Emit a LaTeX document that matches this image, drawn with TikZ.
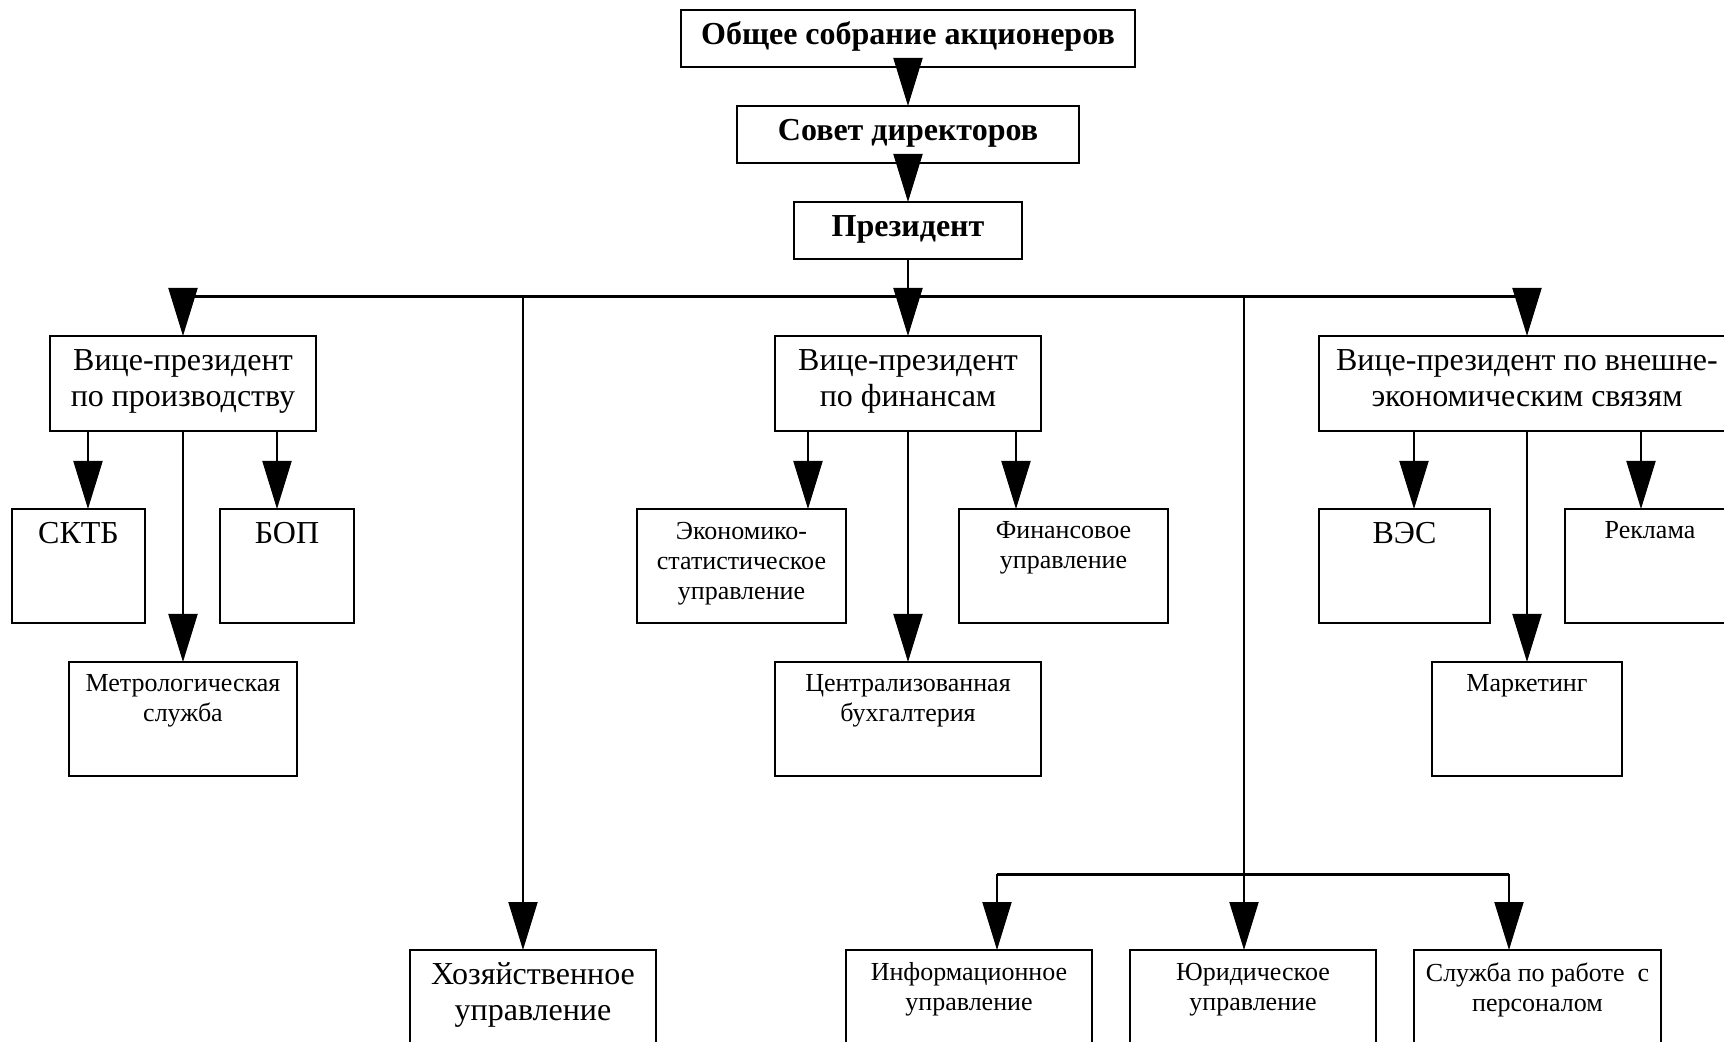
\documentclass[tikz,border=0pt]{standalone}
\usepackage{fontspec}
\setmainfont{Liberation Serif}
\usetikzlibrary{positioning, arrows.meta}

\begin{document}
\begin{tikzpicture}[
		box/.style={draw, line width=1pt, inner sep=0pt, outer sep=0pt, align=center},
		head/.style={box, font=\fontsize{16}{18}\selectfont\bfseries, minimum height=28.5pt, text height=12pt, text depth=5.5pt},
		chief/.style={box, font=\fontsize{16}{18}\selectfont, minimum width=133pt, minimum height=47.5pt,
			execute at begin node={\rule{0pt}{12pt}}, execute at end node={\rule[-5.5pt]{0pt}{5.5pt}}},
		unit/.style={box, minimum height=57pt},
		bigtxt/.style={font=\fontsize{16}{18}\selectfont, align=center, inner sep=0pt, anchor=north, yshift=-5pt,
			execute at begin node={\rule{0pt}{12pt}}},
		smalltxt/.style={font=\fontsize{13}{15}\selectfont, align=center, inner sep=0pt, anchor=north, yshift=-6.25pt,
			execute at begin node={\rule{0pt}{10pt}}},
		link/.style={line width=1pt, -{Triangle[length=24pt, width=14.5pt]}},
		bus/.style={line width=1.5pt},
		>=Triangle
	]

	\node[head, minimum width=227pt] (gsa) {Общее собрание акционеров};
	\useasboundingbox ([xshift=-454pt, yshift=5pt]gsa.north) rectangle ([xshift=408pt, yshift=-516pt]gsa.north);
	\node[head, minimum width=170.5pt, below=19.5pt of gsa] (sd) {Совет директоров};
	\node[head, minimum width=114pt, below=19.5pt of sd] (pres) {Президент};
	\coordinate[below=19pt of pres] (bus);

	\node[chief, below=19.5pt of bus] (vp2) {Вице-президент\\по финансам};
	\node[chief, left=229.5pt of vp2] (vp1) {Вице-президент\\по производству};
	\node[chief, right=139pt of vp2, minimum width=208pt] (vp3) {Вице-президент по внешне-\\экономическим связям};

	\node[unit, minimum width=66.5pt, below=39pt of vp1, xshift=-52.25pt, label={[bigtxt]north:СКТБ}] (sktb) {};
	\node[unit, minimum width=67pt, below=39pt of vp1, xshift=52pt, label={[bigtxt]north:БОП}] (bop) {};
	\node[unit, minimum width=114pt, below=115.5pt of vp1, label={[smalltxt]north:Метрологическая\\служба}] (metro) {};

	\node[unit, minimum width=104.5pt, below=39pt of vp2, xshift=-83.25pt, label={[smalltxt]north:Экономико-\\статистическое\\управление}] (econ) {};
	\node[unit, minimum width=104.5pt, below=39pt of vp2, xshift=77.75pt, label={[smalltxt]north:Финансовое\\управление}] (fin) {};
	\node[unit, minimum width=133pt, below=115.5pt of vp2, label={[smalltxt]north:Централизованная\\бухгалтерия}] (centr) {};

	\node[unit, minimum width=85.5pt, below=39pt of vp3, xshift=-61.25pt, label={[bigtxt]north:ВЭС}] (ves) {};
	\node[unit, minimum width=85pt, below=39pt of vp3, xshift=61.5pt, label={[smalltxt, yshift=1.9pt]north:Реклама}] (rekl) {};
	\node[unit, minimum width=95pt, below=115.5pt of vp3, label={[smalltxt, yshift=1.9pt]north:Маркетинг}] (mark) {};

	\node[unit, minimum width=123pt, below=87pt of centr, xshift=30.5pt, label={[smalltxt]north:Информационное\\управление}] (info) {};
	\node[unit, minimum width=123pt, left=95pt of info, label={[bigtxt, yshift=-1.2pt]north:Хозяйственное\\управление}] (hoz) {};
	\node[unit, minimum width=123pt, right=19pt of info, label={[smalltxt]north:Юридическое\\управление}] (jur) {};
	\node[unit, minimum width=123.5pt, right=19pt of jur, label={[smalltxt]north:Служба по работе\ \ с\\персоналом}] (sluzh) {};
	\coordinate[above=38pt of jur] (sub);

	\draw[link] (gsa) -- (sd);
	\draw[link] (sd) -- (pres);
	\draw[line width=1pt] (pres) -- (bus);
	\draw[bus] (vp1.north |- bus) -- (vp3.north |- bus);

	\foreach \j in {vp1, vp2, vp3}
		\draw[link] (\j.north |- bus) -- (\j);

	\foreach \i/\j/\s in {vp1/sktb/4.75pt, vp1/bop/-5pt, vp1/metro/0pt, vp2/econ/33.25pt, vp2/fin/-23.75pt, vp2/centr/0pt, vp3/ves/4.75pt, vp3/rekl/-4.5pt, vp3/mark/0pt}
		\draw[link] ([xshift=\s]\j.north |- \i.south) -- ([xshift=\s]\j.north);

	\foreach \j/\s in {hoz/-5pt, jur/-4.5pt}
		\draw[link] ([xshift=\s]\j.north |- bus) -- ([xshift=\s]\j.north);

	\draw[bus] ([xshift=14pt]info.north |- sub) -- ([xshift=-14.25pt]sluzh.north |- sub);

	\foreach \j/\s in {info/14pt, sluzh/-14.25pt}
		\draw[link] ([xshift=\s]\j.north |- sub) -- ([xshift=\s]\j.north);

\end{tikzpicture}
\end{document}
